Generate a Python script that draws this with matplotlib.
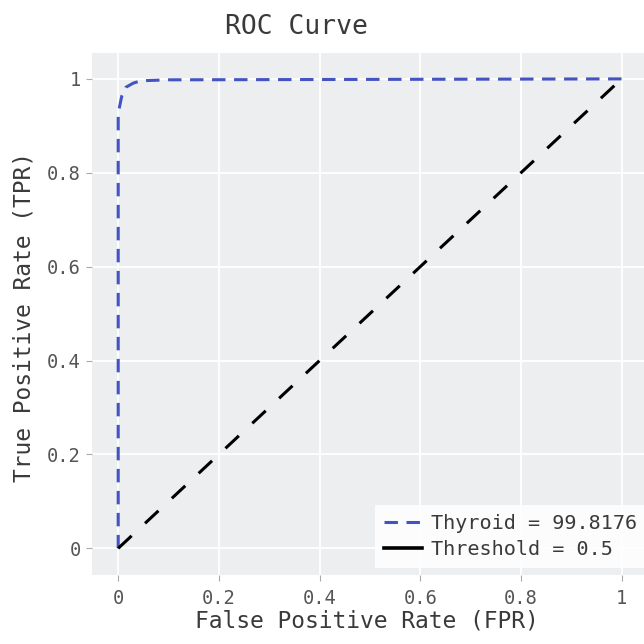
import matplotlib.pyplot as plt
from matplotlib.lines import Line2D

# data
fpr = [0.0, 0.0, 0.007, 0.015, 0.03, 0.045, 0.1, 1.0]
tpr = [0.0, 0.927, 0.963, 0.982, 0.991, 0.996, 0.998, 1.0]
thr_x = [0.0, 1.0]
thr_y = [0.0, 1.0]
auc_label = "Thyroid = 99.8176"
thr_label = "Threshold = 0.5"
ticks = [0, 0.2, 0.4, 0.6, 0.8, 1]
tick_labels = ["0", "0.2", "0.4", "0.6", "0.8", "1"]

plt.rcParams["font.family"] = ["DejaVu Sans Mono"]

fig = plt.figure(figsize=(6.44, 6.44), dpi=100)
ax = fig.add_axes([0.1429, 0.107, 0.863, 0.8106])
ax.set_facecolor("#eceef0")

ax.plot(fpr, tpr, color="#4453c2", lw=2.2, dashes=(4.4, 2.8), zorder=3)
ax.plot(thr_x, thr_y, color="black", lw=2.2, dashes=(6, 6), zorder=3)

ax.set_xlim(-0.052, 1.052)
ax.set_ylim(-0.057, 1.055)
ax.set_xticks(ticks)
ax.set_xticklabels(tick_labels)
ax.set_yticks(ticks)
ax.set_yticklabels(tick_labels)
ax.grid(color="white", lw=1.3)
ax.set_axisbelow(True)
for s in ax.spines.values():
    s.set_visible(False)
ax.tick_params(labelcolor="#555555", color="#aaaaaa", labelsize=13.5,
               length=4, width=0.8)
ax.tick_params(axis="x", pad=6)
ax.tick_params(axis="y", pad=4)

fig.text(0.46, 0.958, "ROC Curve", ha="center", va="center", fontsize=19, color="#3a3a3a")
fig.text(0.569, 0.026, "False Positive Rate (FPR)", ha="center", va="baseline", fontsize=16.5, color="#3a3a3a")
fig.text(0.037, 0.508, "True Positive Rate (TPR)", ha="center", va="center", rotation=90, fontsize=16.5, color="#3a3a3a")

handles = [
    Line2D([], [], color="#4453c2", lw=2.2, dashes=(4.4, 2.8)),
    Line2D([], [], color="black", lw=2.6),
]
leg = ax.legend(handles, [auc_label, thr_label], loc="lower left",
                bbox_to_anchor=(0.509, 0.013), fontsize=14.5, frameon=True,
                fancybox=False, handlelength=1.9, handletextpad=0.45,
                borderpad=0.45, borderaxespad=0, labelspacing=0.35,
                labelcolor="#3a3a3a")
leg.get_frame().set_facecolor("white")
leg.get_frame().set_alpha(0.85)
leg.get_frame().set_linewidth(0)

fig.savefig("out.png", dpi=100)
